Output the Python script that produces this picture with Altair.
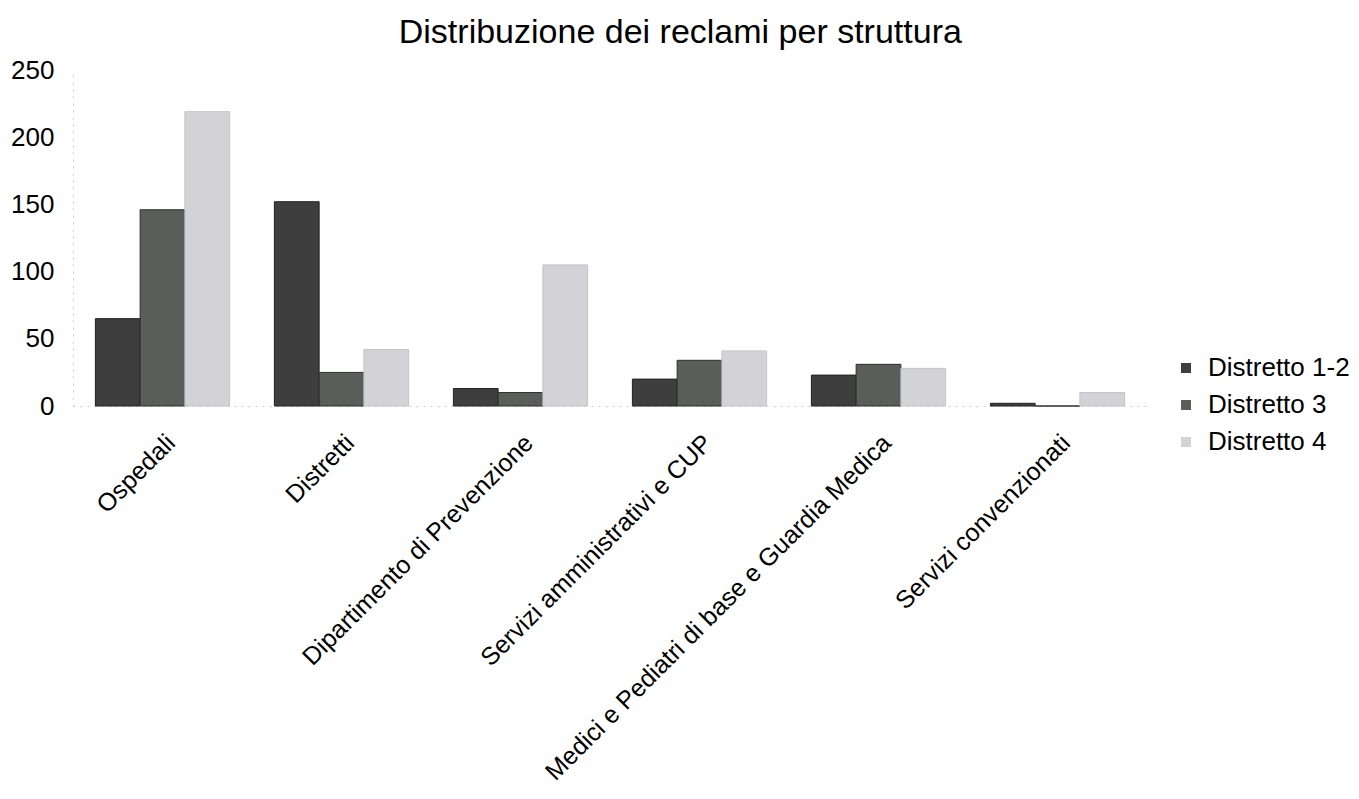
import altair as alt
import pandas as pd

categories = ["Ospedali", "Distretti", "Dipartimento di Prevenzione",
              "Servizi amministrativi  e CUP", "Medici e Pediatri di base e Guardia Medica",
              "Servizi convenzionati"]
series = ["Distretto 1-2", "Distretto 3", "Distretto 4"]
d12 = [65, 152, 13, 20, 23, 2]
d3 = [146, 25, 10, 34, 31, 0]
d4 = [219, 42, 105, 41, 28, 10]
colors = ["#3d3e3d", "#5a5d5a", "#d3d3d7"]
strokes = ["#222222", "#2e2e2e", "#c4c4c8"]

rows = []
for i, c in enumerate(categories):
    for s, vals in zip(series, [d12, d3, d4]):
        rows.append({"Struttura": c, "Serie": s, "Valore": vals[i]})
df = pd.DataFrame(rows)

font = "Liberation Sans"

chart = alt.Chart(df).mark_bar(strokeWidth=1).encode(
    x=alt.X("Struttura:N", sort=categories, title=None,
            scale=alt.Scale(paddingInner=0.25, paddingOuter=0.125),
            axis=alt.Axis(labelAngle=-45, labelFontSize=25, labelFont=font,
                          labelColor="#000000", ticks=False, labelPadding=24,
                          domainColor="#cccccc", domainDash=[2, 5], labelLimit=800)),
    xOffset=alt.XOffset("Serie:N", sort=series),
    y=alt.Y("Valore:Q", title=None,
            scale=alt.Scale(domain=[0, 250]),
            axis=alt.Axis(values=[0, 50, 100, 150, 200, 250], grid=False, ticks=False,
                          labelFontSize=26, labelFont=font, labelColor="#000000",
                          labelPadding=19, domainColor="#cccccc", domainDash=[2, 5])),
    color=alt.Color("Serie:N", sort=series,
                    scale=alt.Scale(domain=series, range=colors),
                    legend=alt.Legend(title=None, labelFontSize=26, labelFont=font,
                                      labelColor="#000000", symbolType="square",
                                      symbolSize=100, symbolStrokeWidth=0,
                                      labelOffset=9, rowPadding=11, orient="none",
                                      legendX=1100, legendY=285)),
    stroke=alt.Stroke("Serie:N", sort=series,
                      scale=alt.Scale(domain=series, range=strokes), legend=None),
).properties(
    width=1074, height=336,
    padding={"left": 10, "top": 16, "right": 5, "bottom": 5},
    title=alt.TitleParams("Distribuzione dei reclami per struttura", fontSize=34,
                          font=font, fontWeight="normal", color="#000000",
                          anchor="middle", frame="bounds", offset=7),
).configure_view(stroke=None)

chart.save("out.html", embed_options={"renderer": "svg", "actions": False})
